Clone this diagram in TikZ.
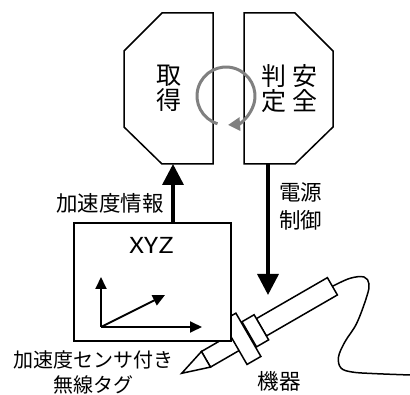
\documentclass[tikz,border=0pt]{standalone}
\usepackage{fontspec}
\setmainfont{Noto Sans CJK JP}
\usetikzlibrary{arrows.meta}

\tikzset{
  panel/.style={draw, line width=1.5pt, fill=white},
  bigarrow/.style={line width=3.5pt, -{Triangle[width=21pt,length=21pt]}},
  axis/.style={line width=1.8pt, -{Triangle[width=11pt,length=12pt]}},
  cycarrow/.style={gray, line width=3pt, -{Triangle[width=13pt,length=12pt]}},
  ironpart/.style={draw, line width=1.5pt, fill=white},
  vtext/.style={font=\fontsize{25}{25}\selectfont, align=center, inner sep=0pt},
  lbl/.style={font=\fontsize{21.5}{28}\selectfont, inner sep=0pt},
}

\begin{document}
\begin{tikzpicture}[x=1pt, y=1pt]
	\useasboundingbox (0,0) rectangle (410,394);

	% the two halves of the loop
	\draw[panel] (162,381) -- (213,381) -- (213,230) -- (162,230) -- (124,267) -- (124,343) -- cycle;
	\draw[panel] (244,381) -- (295,381) -- (333,343) -- (333,267) -- (295,230) -- (244,230) -- cycle;
	\node[vtext] (acq) at (169,305.5) {取\\得};
	\node[vtext] (judge) at (274,305.5) {判\\定};
	\node[vtext] (safe) at (305,305.5) {安\\全};
	\coordinate (acqbot) at (173,230);
	\coordinate (judgebot) at (268,230);

	% turning arrow between them
	\coordinate (cyc) at (226,298);
	\draw[cycarrow] (cyc) ++(253:29) arc[start angle=253, end angle=-86, radius=29];

	% soldering iron
	\begin{scope}[shift={(181.7,20.7)}, rotate=30]
		\draw[ironpart] (28,-9) rectangle (63,9);
		\draw[ironpart] (0,0) -- (28,9) -- (28,-9) -- cycle;
		\draw[ironpart] (92,-10) rectangle (174,10);
		\draw[ironpart] (78,-14.5) rectangle (92,14.5);
		\draw[ironpart] (61,-25) rectangle (77,25);
		\coordinate (plug) at (174,0);
	\end{scope}
	\draw[line width=1.5pt] plot[smooth, tension=0.6] coordinates {(plug) (350,115.7) (364,117) (369,110)
		(366.7,97.3) (356.7,70.7) (345,52.3) (338.5,37) (341,26) (352,22) (372,20.5) (410,19)};
	\coordinate (devtop) at (268,99);

	% tag with its axes
	\node[panel, minimum width=157pt, minimum height=118pt, inner sep=0pt] (tag) at (152.5,112) {};
	\node[lbl, font=\fontsize{22}{28}\selectfont, xscale=1.2] (xyz) at (152,148.5) {XYZ};
	\coordinate (o) at (101,67);
	\draw[axis] (o) -- (101,117);
	\draw[axis] (o) -- (202,67);
	\draw[axis] (o) -- (165,99);

	% signal and control
	\draw[bigarrow] (tag.north -| acqbot) -- (acqbot);
	\draw[bigarrow] (judgebot) -- (devtop);

	\node[lbl, anchor=east] (info) at (164,191) {加速度情報};
	\node[lbl, align=left, anchor=west] (pwr) at (279,188) {電源\\制御};
	\node[font=\fontsize{20}{25}\selectfont, align=center, inner sep=0pt] (taglbl) at (93,22) {加速度センサ付き\\無線タグ};
	\node[lbl] (dev) at (279,13) {機器};
\end{tikzpicture}
\end{document}
